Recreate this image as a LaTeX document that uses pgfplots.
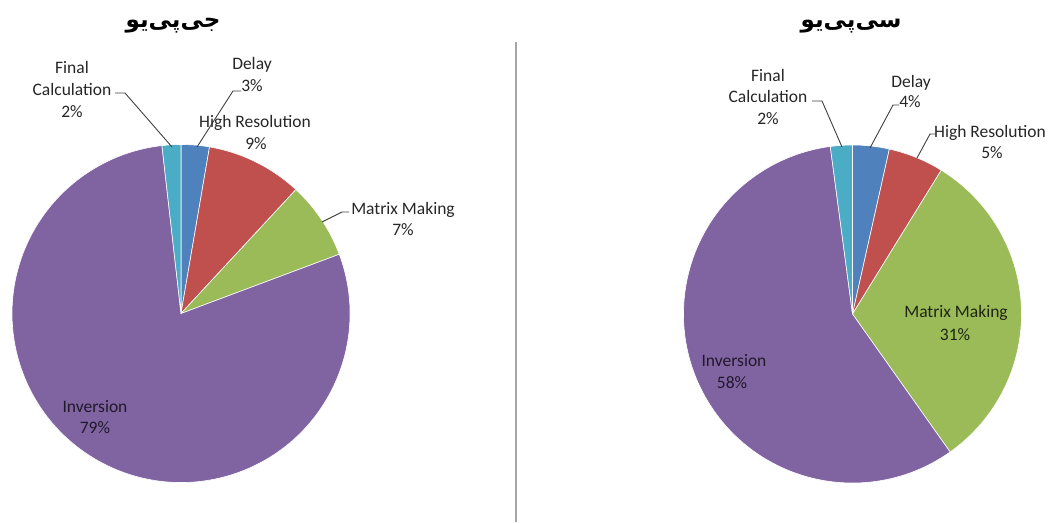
\documentclass[border=0pt]{standalone}
\usepackage{pgfplots}
\pgfplotsset{compat=1.18}
\usepackage{fontspec}
\setmainfont{Carlito}
\newfontfamily\arabicfont[Script=Arabic]{DejaVu Sans}
\TeXXeTstate=1
\definecolor{pblue}{HTML}{4F81BD}
\definecolor{pred}{HTML}{C0504D}
\definecolor{pgreen}{HTML}{9BBB59}
\definecolor{pviolet}{HTML}{8064A2}
\definecolor{paqua}{HTML}{4BACC6}
\definecolor{sepgray}{HTML}{A6A6A6}
% slice: centre x, centre y, start %, end %, colour (Excel order: clockwise from 12 o'clock)
\newcommand{\slice}[5]{%
  \fill[#5, draw=white, line width=0.6bp] (axis cs:#1,#2) -- ++({90-3.6*#3}:169bp)
    arc[start angle={90-3.6*#3}, end angle={90-3.6*#4}, radius=169bp] -- cycle;}
\begin{document}
\begin{tikzpicture}[
  lbl/.style={anchor=base, font=\fontsize{17.5bp}{21bp}\selectfont, text=black!85, inner sep=0pt},
  ilbl/.style={anchor=base, font=\fontsize{17.5bp}{21bp}\selectfont, inner sep=0pt},
  leader/.style={draw=black!75, line width=0.9bp}]
\begin{axis}[x=1bp, y=1bp, xmin=0, xmax=1051, ymin=0, ymax=522, y dir=reverse,
  hide axis, clip=false]
\path (axis cs:0,0) rectangle (axis cs:1051,522);
% ---- GPU: Delay 2.7, High Resolution 9.2, Matrix Making 7.4, Inversion 78.9, Final Calculation 1.8
\slice{181}{313.5}{0}{2.7}{pblue}
\slice{181}{313.5}{2.7}{11.9}{pred}
\slice{181}{313.5}{11.9}{19.3}{pgreen}
\slice{181}{313.5}{19.3}{98.2}{pviolet}
\slice{181}{313.5}{98.2}{100}{paqua}
% ---- CPU: Delay 3.5, High Resolution 5.3, Matrix Making 31.4, Inversion 57.7, Final Calculation 2.1
\slice{852.5}{314}{0}{3.5}{pblue}
\slice{852.5}{314}{3.5}{8.8}{pred}
\slice{852.5}{314}{8.8}{40.2}{pgreen}
\slice{852.5}{314}{40.2}{97.9}{pviolet}
\slice{852.5}{314}{97.9}{100}{paqua}
% separator
\draw[sepgray, line width=2bp] (axis cs:516,42) -- (axis cs:516,522);
% titles
\node[anchor=center, inner sep=0pt] at (axis cs:173,26) {\arabicfont\bfseries\fontsize{23bp}{26bp}\selectfont\beginR جی^^^^200cپی^^^^200cیو\endR};
\node[anchor=center, inner sep=0pt] at (axis cs:851,26) {\arabicfont\bfseries\fontsize{23bp}{26bp}\selectfont\beginR سی^^^^200cپی^^^^200cیو\endR};
% GPU labels
\node[lbl] at (axis cs:72,74) {Final};
\node[lbl] at (axis cs:72,96) {Calculation};
\node[lbl] at (axis cs:72,118) {2\%};
\draw[leader] (axis cs:115,93) -- (axis cs:125,93) -- (axis cs:172,147);
\node[lbl] at (axis cs:252,70) {Delay};
\node[lbl] at (axis cs:252,92) {3\%};
\draw[leader] (axis cs:241,91) -- (axis cs:233,91) -- (axis cs:197,147);
\node[lbl] at (axis cs:255,128) {High Resolution};
\node[lbl] at (axis cs:256,150) {9\%};
\node[lbl] at (axis cs:403,215) {Matrix Making};
\node[lbl] at (axis cs:403,236) {7\%};
\draw[leader] (axis cs:349,212) -- (axis cs:342,212) -- (axis cs:322,222);
\node[ilbl, text=black!75!pviolet] at (axis cs:95,412) {Inversion};
\node[ilbl, text=black!75!pviolet] at (axis cs:95,433) {79\%};
% CPU labels
\node[lbl] at (axis cs:768,82) {Final};
\node[lbl] at (axis cs:768,103) {Calculation};
\node[lbl] at (axis cs:768,125) {2\%};
\draw[leader] (axis cs:812,101) -- (axis cs:822,101) -- (axis cs:842,147);
\node[lbl] at (axis cs:911,88) {Delay};
\node[lbl] at (axis cs:910,108) {4\%};
\draw[leader] (axis cs:899,105) -- (axis cs:893,105) -- (axis cs:870,148);
\node[lbl] at (axis cs:990,138) {High Resolution};
\node[lbl] at (axis cs:992,159) {5\%};
\draw[leader] (axis cs:935,134) -- (axis cs:930,134) -- (axis cs:917,158);
\node[ilbl, text=black!80!pgreen] at (axis cs:956,318) {Matrix Making};
\node[ilbl, text=black!80!pgreen] at (axis cs:955,341) {31\%};
\node[ilbl, text=black!75!pviolet] at (axis cs:734,367) {Inversion};
\node[ilbl, text=black!75!pviolet] at (axis cs:732,388) {58\%};
\end{axis}
\end{tikzpicture}
\end{document}
